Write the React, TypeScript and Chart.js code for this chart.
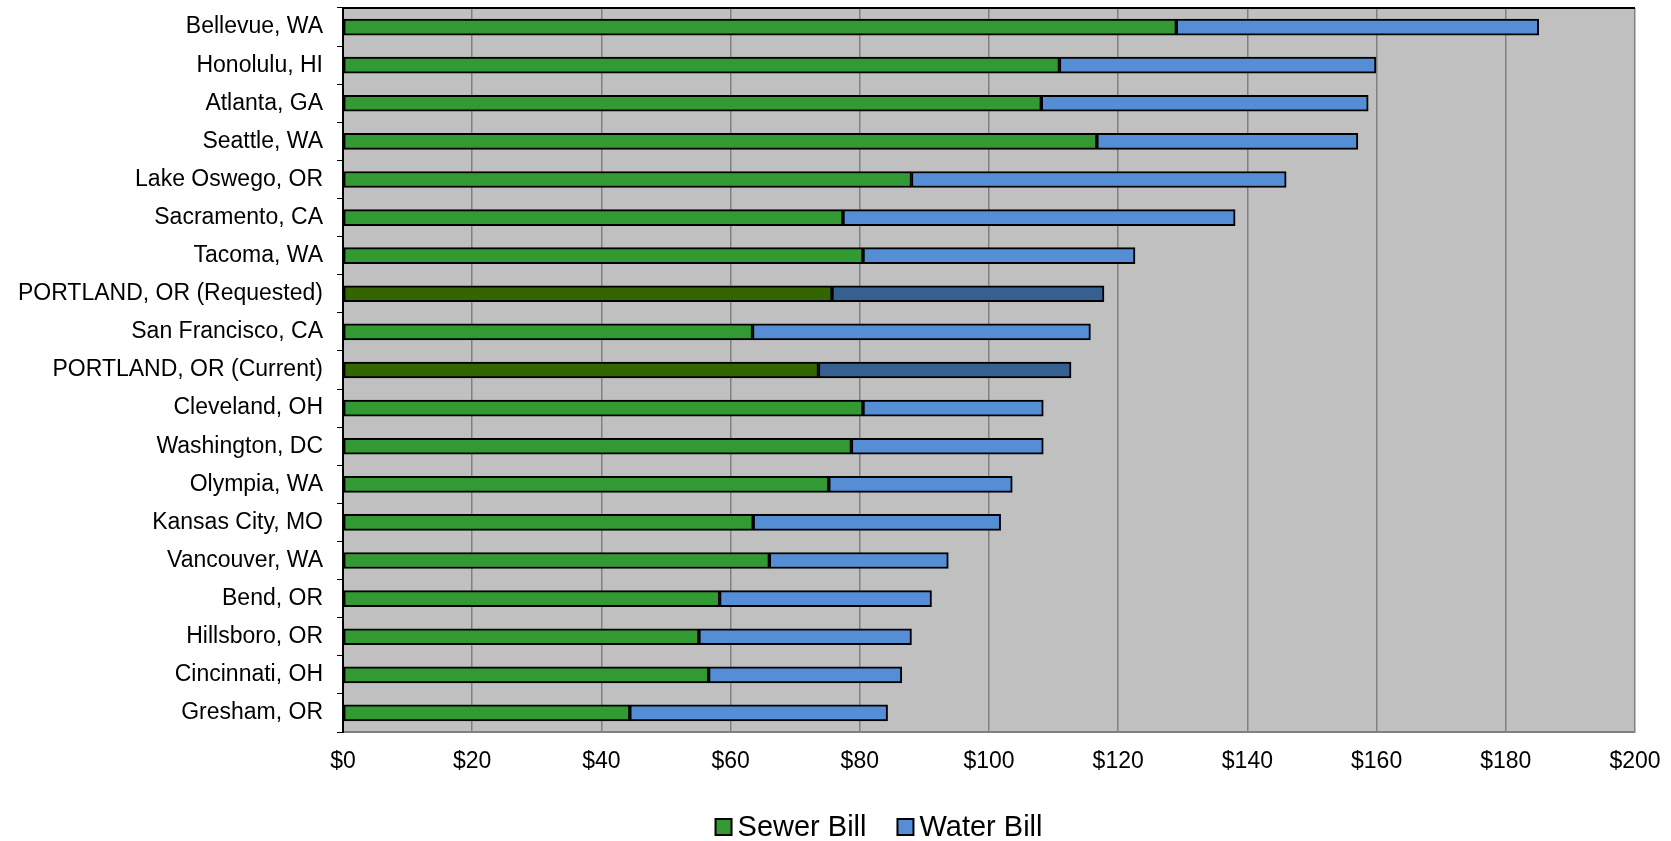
import React, { useEffect, useRef } from "react";
import { Chart, registerables } from "chart.js";

Chart.register(...registerables);

const cities = [
  "Bellevue, WA",
  "Honolulu, HI",
  "Atlanta, GA",
  "Seattle, WA",
  "Lake Oswego, OR",
  "Sacramento, CA",
  "Tacoma, WA",
  "PORTLAND, OR (Requested)",
  "San Francisco, CA",
  "PORTLAND, OR (Current)",
  "Cleveland, OH",
  "Washington, DC",
  "Olympia, WA",
  "Kansas City, MO",
  "Vancouver, WA",
  "Bend, OR",
  "Hillsboro, OR",
  "Cincinnati, OH",
  "Gresham, OR",
];

const sewerBill = [129.0, 110.9, 108.1, 116.7, 88.0, 77.4, 80.5, 75.7, 63.4, 73.6, 80.5, 78.7, 75.2, 63.5, 66.0, 58.3, 55.1, 56.6, 44.4];
const waterBill = [56.1, 49.0, 50.6, 40.4, 58.0, 60.7, 42.1, 42.1, 52.3, 39.1, 27.9, 29.7, 28.4, 38.3, 27.7, 32.8, 32.9, 29.9, 39.9];

const xTicks = [0, 20, 40, 60, 80, 100, 120, 140, 160, 180, 200];

const GREEN = "#339933";
const BLUE = "#558ED5";
const DARK_GREEN = "#336600";
const DARK_BLUE = "#376092";
const FONT = "'Liberation Sans', Arial, sans-serif";

const isPortland = (c: string) => c.startsWith("PORTLAND");

export default function App() {
  const ref = useRef<HTMLCanvasElement | null>(null);

  useEffect(() => {
    document.body.style.margin = "0";
    const canvas = ref.current;
    if (!canvas) return;

    const bgPlugin = {
      id: "plotBg",
      beforeDraw(chart: any) {
        const { ctx, chartArea } = chart;
        ctx.save();
        ctx.fillStyle = "#C0C0C0";
        ctx.fillRect(chartArea.left, chartArea.top, chartArea.right - chartArea.left, chartArea.bottom - chartArea.top);
        ctx.restore();
      },
      afterDatasetsDraw(chart: any) {
        const { ctx, chartArea } = chart;
        ctx.save();
        ctx.strokeStyle = "#000000";
        ctx.lineWidth = 2;
        ctx.beginPath();
        ctx.moveTo(chartArea.left, chartArea.top);
        ctx.lineTo(chartArea.right, chartArea.top);
        ctx.stroke();
        ctx.restore();
      },
    };

    const legendPlugin = {
      id: "customLegend",
      afterDraw(chart: any) {
        const { ctx } = chart;
        const items = chart.data.datasets.map((d: any) => ({ label: d.label, color: d.legendColor }));
        ctx.save();
        ctx.font = `29px ${FONT}`;
        ctx.textBaseline = "middle";
        const box = 16;
        const gapBoxText = 6;
        const gapItems = 31;
        let total = 0;
        items.forEach((it: any, i: number) => {
          total += box + gapBoxText + ctx.measureText(it.label).width + (i < items.length - 1 ? gapItems : 0);
        });
        let x = 879 - total / 2;
        const y = 827;
        items.forEach((it: any) => {
          ctx.fillStyle = it.color;
          ctx.fillRect(x, y - box / 2, box, box);
          ctx.strokeStyle = "#000";
          ctx.lineWidth = 2;
          ctx.strokeRect(x, y - box / 2, box, box);
          x += box + gapBoxText;
          ctx.fillStyle = "#000";
          ctx.fillText(it.label, x, y + 1);
          x += ctx.measureText(it.label).width + gapItems;
        });
        ctx.restore();
      },
    };

    const chart = new Chart(canvas, {
      type: "bar",
      data: {
        labels: cities,
        datasets: [
          {
            label: "Sewer Bill",
            data: sewerBill,
            backgroundColor: cities.map((c) => (isPortland(c) ? DARK_GREEN : GREEN)),
            borderColor: "#000000",
            borderWidth: 2,
            barThickness: 16,
            borderSkipped: false,
            legendColor: GREEN,
          } as any,
          {
            label: "Water Bill",
            data: waterBill,
            backgroundColor: cities.map((c) => (isPortland(c) ? DARK_BLUE : BLUE)),
            borderColor: "#000000",
            borderWidth: 2,
            barThickness: 16,
            borderSkipped: false,
            legendColor: BLUE,
          } as any,
        ],
      },
      options: {
        indexAxis: "y",
        animation: false,
        responsive: false,
        maintainAspectRatio: false,
        layout: { padding: { top: 8, right: 36, left: 0, bottom: 0 } },
        plugins: {
          legend: { display: false },
          tooltip: { enabled: false },
        },
        scales: {
          x: {
            stacked: true,
            min: 0,
            max: 200,
            afterBuildTicks: (scale: any) => {
              scale.ticks = xTicks.map((v) => ({ value: v }));
            },
            afterFit: (scale: any) => {
              scale.height = 109;
              scale.paddingLeft = 0;
              scale.paddingRight = 0;
            },
            grid: {
              color: "#808080",
              lineWidth: 1.5,
              drawTicks: false,
            },
            border: { display: true, color: "#808080", width: 2 },
            ticks: {
              color: "#000",
              font: { family: FONT, size: 23 },
              padding: 16,
              maxRotation: 0,
              callback: (v: any) => "$" + v,
            },
          },
          y: {
            stacked: true,
            afterFit: (scale: any) => {
              scale.width = 343;
              scale.paddingTop = 0;
              scale.paddingBottom = 0;
            },
            grid: {
              drawOnChartArea: false,
              drawTicks: true,
              tickLength: 6,
              color: "#000",
              offset: true,
            },
            border: { display: true, color: "#000", width: 2 },
            ticks: {
              color: "#000",
              font: { family: FONT, size: 23 },
              padding: 14,
              autoSkip: false,
            },
          },
        },
      },
      plugins: [bgPlugin, legendPlugin],
    } as any);

    return () => chart.destroy();
  }, []);

  return (
    <div style={{ position: "absolute", left: 0, top: 0, width: 1671, height: 841, background: "#fff" }}>
      <canvas ref={ref} width={1671} height={841} style={{ width: 1671, height: 841 }} />
    </div>
  );
}
